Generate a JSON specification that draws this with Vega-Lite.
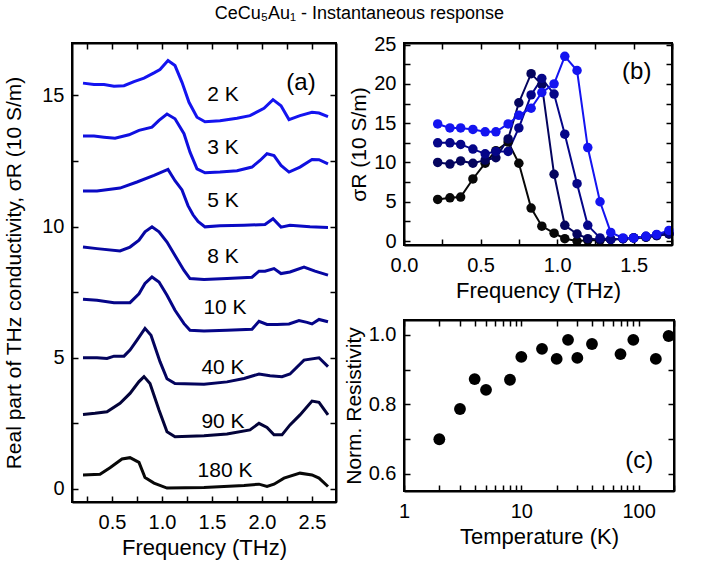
{
  "$schema": "https://vega.github.io/schema/vega-lite/v6.json",
  "padding": {"left": 2, "top": 4, "right": 5, "bottom": 2},
  "title": {"text": "CeCu₅Au₁ - Instantaneous response", "fontSize": 18, "fontWeight": "normal", "font": "Liberation Sans", "anchor": "middle", "offset": 11, "dx": 20, "color": "black"},
  "spacing": 4,
  "config": {
    "font": "Liberation Sans",
    "view": {"stroke": "black", "strokeWidth": 2},
    "axis": {"grid": false, "domain": true, "domainColor": "black", "domainWidth": 2, "zindex": 1, "tickColor": "black", "tickWidth": 1.5, "tickSize": -6, "labelColor": "black", "titleColor": "black", "labelFontSize": 20, "titleFontSize": 22, "titleFontWeight": "normal", "labelFont": "Liberation Sans", "titleFont": "Liberation Sans", "labelFlush": false, "labelOverlap": false}
  },
  "datasets": {
    "a": [
      {"T":"2 K","f":0.21,"s":15.47},{"T":"2 K","f":0.32,"s":15.42},{"T":"2 K","f":0.42,"s":15.42},{"T":"2 K","f":0.52,"s":15.35},{"T":"2 K","f":0.62,"s":15.37},{"T":"2 K","f":0.72,"s":15.53},{"T":"2 K","f":0.82,"s":15.66},{"T":"2 K","f":0.92,"s":15.86},{"T":"2 K","f":0.98,"s":15.99},{"T":"2 K","f":1.06,"s":16.33},{"T":"2 K","f":1.13,"s":16.14},{"T":"2 K","f":1.2,"s":15.5},{"T":"2 K","f":1.27,"s":14.74},{"T":"2 K","f":1.35,"s":14.17},{"T":"2 K","f":1.43,"s":14.0},{"T":"2 K","f":1.58,"s":14.04},{"T":"2 K","f":1.75,"s":14.13},{"T":"2 K","f":1.88,"s":14.23},{"T":"2 K","f":2.02,"s":14.51},{"T":"2 K","f":2.11,"s":14.84},{"T":"2 K","f":2.19,"s":14.61},{"T":"2 K","f":2.27,"s":14.08},{"T":"2 K","f":2.38,"s":14.23},{"T":"2 K","f":2.5,"s":14.36},{"T":"2 K","f":2.57,"s":14.33},{"T":"2 K","f":2.66,"s":14.19},
      {"T":"3 K","f":0.21,"s":13.45},{"T":"3 K","f":0.32,"s":13.45},{"T":"3 K","f":0.42,"s":13.41},{"T":"3 K","f":0.53,"s":13.37},{"T":"3 K","f":0.67,"s":13.5},{"T":"3 K","f":0.77,"s":13.67},{"T":"3 K","f":0.9,"s":13.79},{"T":"3 K","f":0.97,"s":14.05},{"T":"3 K","f":1.05,"s":14.29},{"T":"3 K","f":1.13,"s":14.11},{"T":"3 K","f":1.22,"s":13.54},{"T":"3 K","f":1.28,"s":12.84},{"T":"3 K","f":1.35,"s":12.2},{"T":"3 K","f":1.43,"s":12.05},{"T":"3 K","f":1.58,"s":12.08},{"T":"3 K","f":1.75,"s":12.13},{"T":"3 K","f":1.9,"s":12.27},{"T":"3 K","f":1.98,"s":12.52},{"T":"3 K","f":2.05,"s":12.78},{"T":"3 K","f":2.12,"s":12.71},{"T":"3 K","f":2.19,"s":12.33},{"T":"3 K","f":2.27,"s":12.08},{"T":"3 K","f":2.38,"s":12.27},{"T":"3 K","f":2.5,"s":12.56},{"T":"3 K","f":2.57,"s":12.55},{"T":"3 K","f":2.66,"s":12.39},
      {"T":"5 K","f":0.21,"s":11.36},{"T":"5 K","f":0.35,"s":11.36},{"T":"5 K","f":0.58,"s":11.47},{"T":"5 K","f":0.75,"s":11.7},{"T":"5 K","f":0.92,"s":11.95},{"T":"5 K","f":1.06,"s":12.18},{"T":"5 K","f":1.13,"s":11.75},{"T":"5 K","f":1.2,"s":11.4},{"T":"5 K","f":1.26,"s":10.8},{"T":"5 K","f":1.31,"s":10.45},{"T":"5 K","f":1.36,"s":10.2},{"T":"5 K","f":1.43,"s":9.99},{"T":"5 K","f":1.58,"s":10.03},{"T":"5 K","f":1.82,"s":10.05},{"T":"5 K","f":2.03,"s":10.08},{"T":"5 K","f":2.11,"s":10.3},{"T":"5 K","f":2.19,"s":9.98},{"T":"5 K","f":2.28,"s":10.05},{"T":"5 K","f":2.48,"s":9.99},{"T":"5 K","f":2.66,"s":9.97},
      {"T":"8 K","f":0.21,"s":9.22},{"T":"8 K","f":0.35,"s":9.16},{"T":"8 K","f":0.58,"s":9.07},{"T":"8 K","f":0.68,"s":9.22},{"T":"8 K","f":0.77,"s":9.48},{"T":"8 K","f":0.83,"s":9.8},{"T":"8 K","f":0.9,"s":9.99},{"T":"8 K","f":0.97,"s":9.8},{"T":"8 K","f":1.05,"s":9.41},{"T":"8 K","f":1.13,"s":8.9},{"T":"8 K","f":1.22,"s":8.33},{"T":"8 K","f":1.28,"s":8.02},{"T":"8 K","f":1.42,"s":7.98},{"T":"8 K","f":1.65,"s":8.02},{"T":"8 K","f":1.9,"s":8.07},{"T":"8 K","f":1.97,"s":8.3},{"T":"8 K","f":2.03,"s":8.3},{"T":"8 K","f":2.12,"s":8.4},{"T":"8 K","f":2.19,"s":8.21},{"T":"8 K","f":2.28,"s":8.27},{"T":"8 K","f":2.42,"s":8.46},{"T":"8 K","f":2.53,"s":8.3},{"T":"8 K","f":2.66,"s":8.15},
      {"T":"10 K","f":0.21,"s":7.23},{"T":"10 K","f":0.35,"s":7.19},{"T":"10 K","f":0.52,"s":7.1},{"T":"10 K","f":0.68,"s":7.1},{"T":"10 K","f":0.77,"s":7.44},{"T":"10 K","f":0.83,"s":7.83},{"T":"10 K","f":0.9,"s":8.08},{"T":"10 K","f":0.97,"s":7.89},{"T":"10 K","f":1.05,"s":7.38},{"T":"10 K","f":1.13,"s":6.81},{"T":"10 K","f":1.22,"s":6.3},{"T":"10 K","f":1.28,"s":6.05},{"T":"10 K","f":1.42,"s":6.02},{"T":"10 K","f":1.65,"s":6.05},{"T":"10 K","f":1.9,"s":6.09},{"T":"10 K","f":1.97,"s":6.39},{"T":"10 K","f":2.05,"s":6.27},{"T":"10 K","f":2.15,"s":6.27},{"T":"10 K","f":2.27,"s":6.29},{"T":"10 K","f":2.37,"s":6.42},{"T":"10 K","f":2.45,"s":6.35},{"T":"10 K","f":2.5,"s":6.29},{"T":"10 K","f":2.57,"s":6.46},{"T":"10 K","f":2.66,"s":6.37},
      {"T":"40 K","f":0.21,"s":5.0},{"T":"40 K","f":0.35,"s":5.0},{"T":"40 K","f":0.45,"s":4.97},{"T":"40 K","f":0.52,"s":5.06},{"T":"40 K","f":0.62,"s":5.06},{"T":"40 K","f":0.68,"s":5.29},{"T":"40 K","f":0.75,"s":5.67},{"T":"40 K","f":0.83,"s":6.12},{"T":"40 K","f":0.89,"s":5.86},{"T":"40 K","f":0.98,"s":4.85},{"T":"40 K","f":1.05,"s":4.2},{"T":"40 K","f":1.13,"s":4.02},{"T":"40 K","f":1.42,"s":3.99},{"T":"40 K","f":1.65,"s":4.08},{"T":"40 K","f":1.82,"s":4.21},{"T":"40 K","f":1.97,"s":4.38},{"T":"40 K","f":2.08,"s":4.31},{"T":"40 K","f":2.2,"s":4.28},{"T":"40 K","f":2.28,"s":4.38},{"T":"40 K","f":2.42,"s":4.91},{"T":"40 K","f":2.57,"s":5.0},{"T":"40 K","f":2.66,"s":4.66},
      {"T":"90 K","f":0.21,"s":2.84},{"T":"90 K","f":0.33,"s":2.88},{"T":"90 K","f":0.45,"s":2.94},{"T":"90 K","f":0.58,"s":3.26},{"T":"90 K","f":0.68,"s":3.64},{"T":"90 K","f":0.77,"s":4.09},{"T":"90 K","f":0.82,"s":4.28},{"T":"90 K","f":0.88,"s":4.02},{"T":"90 K","f":0.97,"s":3.01},{"T":"90 K","f":1.05,"s":2.18},{"T":"90 K","f":1.13,"s":1.99},{"T":"90 K","f":1.42,"s":2.03},{"T":"90 K","f":1.65,"s":2.09},{"T":"90 K","f":1.88,"s":2.25},{"T":"90 K","f":1.97,"s":2.5},{"T":"90 K","f":2.05,"s":2.34},{"T":"90 K","f":2.12,"s":2.06},{"T":"90 K","f":2.2,"s":2.06},{"T":"90 K","f":2.28,"s":2.44},{"T":"90 K","f":2.38,"s":2.82},{"T":"90 K","f":2.5,"s":3.35},{"T":"90 K","f":2.57,"s":3.3},{"T":"90 K","f":2.66,"s":2.82},
      {"T":"180 K","f":0.21,"s":0.53},{"T":"180 K","f":0.38,"s":0.56},{"T":"180 K","f":0.48,"s":0.81},{"T":"180 K","f":0.6,"s":1.14},{"T":"180 K","f":0.68,"s":1.19},{"T":"180 K","f":0.77,"s":1.01},{"T":"180 K","f":0.83,"s":0.43},{"T":"180 K","f":0.92,"s":0.22},{"T":"180 K","f":1.05,"s":0.03},{"T":"180 K","f":1.42,"s":0.05},{"T":"180 K","f":1.82,"s":0.13},{"T":"180 K","f":1.97,"s":0.18},{"T":"180 K","f":2.05,"s":0.09},{"T":"180 K","f":2.12,"s":0.18},{"T":"180 K","f":2.22,"s":0.41},{"T":"180 K","f":2.38,"s":0.6},{"T":"180 K","f":2.5,"s":0.53},{"T":"180 K","f":2.57,"s":0.41},{"T":"180 K","f":2.66,"s":0.09},
      {"label":"2 K","f":1.61,"s":15.0},{"label":"3 K","f":1.61,"s":13.0},{"label":"5 K","f":1.61,"s":10.96},{"label":"8 K","f":1.61,"s":8.83},{"label":"10 K","f":1.63,"s":6.89},{"label":"40 K","f":1.61,"s":4.6},{"label":"90 K","f":1.61,"s":2.55},{"label":"180 K","f":1.63,"s":0.69},
      {"panel":"(a)","f":2.39,"s":15.47}
    ],
    "b": [
      {"S":"180 K","f":0.22,"s":5.3},{"S":"180 K","f":0.3,"s":5.5},{"S":"180 K","f":0.37,"s":5.6},{"S":"180 K","f":0.45,"s":7.9},{"S":"180 K","f":0.53,"s":9.9},{"S":"180 K","f":0.6,"s":11.5},{"S":"180 K","f":0.68,"s":12.6},{"S":"180 K","f":0.75,"s":9.9},{"S":"180 K","f":0.83,"s":4.2},{"S":"180 K","f":0.9,"s":1.9},{"S":"180 K","f":0.98,"s":1.0},{"S":"180 K","f":1.05,"s":0.3},{"S":"180 K","f":1.13,"s":0.0},{"S":"180 K","f":1.2,"s":0.1},{"S":"180 K","f":1.28,"s":0.1},{"S":"180 K","f":1.35,"s":0.2},{"S":"180 K","f":1.43,"s":0.3},{"S":"180 K","f":1.5,"s":0.4},{"S":"180 K","f":1.58,"s":0.5},{"S":"180 K","f":1.65,"s":0.7},{"S":"180 K","f":1.73,"s":0.9},
      {"S":"40 K","f":0.22,"s":10.0},{"S":"40 K","f":0.3,"s":9.8},{"S":"40 K","f":0.37,"s":10.2},{"S":"40 K","f":0.45,"s":9.9},{"S":"40 K","f":0.53,"s":10.3},{"S":"40 K","f":0.6,"s":10.6},{"S":"40 K","f":0.68,"s":13.0},{"S":"40 K","f":0.75,"s":17.6},{"S":"40 K","f":0.83,"s":21.3},{"S":"40 K","f":0.9,"s":19.9},{"S":"40 K","f":0.98,"s":8.5},{"S":"40 K","f":1.05,"s":2.0},{"S":"40 K","f":1.13,"s":0.9},{"S":"40 K","f":1.2,"s":0.3},{"S":"40 K","f":1.28,"s":0.2},{"S":"40 K","f":1.35,"s":0.2},{"S":"40 K","f":1.43,"s":0.3},{"S":"40 K","f":1.5,"s":0.4},{"S":"40 K","f":1.58,"s":0.5},{"S":"40 K","f":1.65,"s":0.7},{"S":"40 K","f":1.73,"s":0.9},
      {"S":"10 K","f":0.22,"s":12.5},{"S":"10 K","f":0.3,"s":12.5},{"S":"10 K","f":0.37,"s":12.3},{"S":"10 K","f":0.45,"s":11.7},{"S":"10 K","f":0.53,"s":11.1},{"S":"10 K","f":0.6,"s":11.4},{"S":"10 K","f":0.68,"s":11.4},{"S":"10 K","f":0.75,"s":14.4},{"S":"10 K","f":0.83,"s":18.6},{"S":"10 K","f":0.9,"s":20.7},{"S":"10 K","f":0.98,"s":18.7},{"S":"10 K","f":1.05,"s":13.6},{"S":"10 K","f":1.13,"s":7.3},{"S":"10 K","f":1.2,"s":2.0},{"S":"10 K","f":1.28,"s":0.4},{"S":"10 K","f":1.35,"s":0.2},{"S":"10 K","f":1.43,"s":0.3},{"S":"10 K","f":1.5,"s":0.4},{"S":"10 K","f":1.58,"s":0.6},{"S":"10 K","f":1.65,"s":0.8},{"S":"10 K","f":1.73,"s":1.0},
      {"S":"2 K","f":0.22,"s":14.9},{"S":"2 K","f":0.3,"s":14.4},{"S":"2 K","f":0.37,"s":14.4},{"S":"2 K","f":0.45,"s":14.2},{"S":"2 K","f":0.53,"s":13.9},{"S":"2 K","f":0.6,"s":13.9},{"S":"2 K","f":0.68,"s":14.9},{"S":"2 K","f":0.75,"s":16.0},{"S":"2 K","f":0.83,"s":16.9},{"S":"2 K","f":0.9,"s":18.9},{"S":"2 K","f":0.98,"s":20.0},{"S":"2 K","f":1.05,"s":23.5},{"S":"2 K","f":1.13,"s":21.7},{"S":"2 K","f":1.2,"s":11.9},{"S":"2 K","f":1.28,"s":5.0},{"S":"2 K","f":1.35,"s":1.1},{"S":"2 K","f":1.43,"s":0.4},{"S":"2 K","f":1.5,"s":0.4},{"S":"2 K","f":1.58,"s":0.6},{"S":"2 K","f":1.65,"s":0.85},{"S":"2 K","f":1.73,"s":1.35},
      {"panel":"(b)","f":1.52,"s":21.5}
    ],
    "c": [
      {"T":2,"R":0.70},{"T":3,"R":0.787},{"T":4,"R":0.873},{"T":5,"R":0.842},{"T":8,"R":0.871},{"T":10,"R":0.937},{"T":15,"R":0.96},{"T":20,"R":0.931},{"T":25,"R":0.986},{"T":30,"R":0.934},{"T":40,"R":0.974},{"T":70,"R":0.945},{"T":90,"R":0.986},{"T":140,"R":0.931},{"T":180,"R":0.997},
      {"panel":"(c)","T":101,"R":0.636}
    ]
  },
  "hconcat": [
    {
      "width": 264,
      "height": 459,
      "data": {"name": "a"},
      "resolve": {"axis": {"x": "independent", "y": "independent"}},
      "layer": [
        {
          "transform": [{"filter": "isValid(datum.T)"}],
          "mark": {"type": "line", "strokeWidth": 3},
          "encoding": {
            "x": {"field": "f", "type": "quantitative", "scale": {"domain": [0.1, 2.74], "nice": false, "zero": false},
              "axis": {"orient": "bottom", "values": [0.25,0.5,0.75,1,1.25,1.5,1.75,2,2.25,2.5], "labelExpr": "datum.value % 0.5 == 0 ? format(datum.value, '.1f') : ''", "title": "Frequency (THz)", "labelPadding": 16, "titlePadding": 5}},
            "y": {"field": "s", "type": "quantitative", "scale": {"domain": [-0.5, 17], "nice": false, "zero": false},
              "axis": {"orient": "left", "values": [0,2.5,5,7.5,10,12.5,15], "labelExpr": "datum.value % 5 == 0 ? format(datum.value, 'd') : ''", "title": "Real part of THz conductivity, σR (10 S/m)", "titleFontSize": 21, "labelPadding": 14, "titlePadding": 17}},
            "color": {"field": "T", "type": "nominal", "legend": null,
              "scale": {"domain": ["2 K","3 K","5 K","8 K","10 K","40 K","90 K","180 K"], "range": ["#1414f0","#1010e0","#0a0ac4","#0707a2","#050588","#04045e","#03033a","#080808"]}}
          }
        },
        {
          "transform": [{"filter": "isValid(datum.label)"}],
          "mark": {"type": "text", "fontSize": 21, "align": "center", "baseline": "middle", "color": "black"},
          "encoding": {
            "x": {"field": "f", "type": "quantitative", "scale": {"domain": [0.1, 2.74], "nice": false, "zero": false},
              "axis": {"orient": "top", "values": [0.25,0.5,0.75,1,1.25,1.5,1.75,2,2.25,2.5], "labels": false, "title": null}},
            "y": {"field": "s", "type": "quantitative", "scale": {"domain": [-0.5, 17], "nice": false, "zero": false},
              "axis": {"orient": "right", "values": [0,2.5,5,7.5,10,12.5,15], "labels": false, "title": null}},
            "text": {"field": "label", "type": "nominal"}
          }
        },
        {
          "transform": [{"filter": "isValid(datum.panel)"}],
          "mark": {"type": "text", "fontSize": 24, "align": "center", "baseline": "middle", "color": "black"},
          "encoding": {
            "x": {"field": "f", "type": "quantitative", "axis": null, "scale": {"domain": [0.1, 2.74], "nice": false, "zero": false}},
            "y": {"field": "s", "type": "quantitative", "axis": null, "scale": {"domain": [-0.5, 17], "nice": false, "zero": false}},
            "text": {"field": "panel", "type": "nominal"}
          }
        },
        {
          "transform": [{"filter": "isValid(datum.panel)"}],
          "mark": {"type": "rect", "fill": null, "filled": false, "stroke": "black", "strokeWidth": 2},
          "encoding": {
            "x": {"datum": 0.1, "type": "quantitative", "axis": null, "scale": {"domain": [0.1, 2.74], "nice": false, "zero": false}},
            "x2": {"datum": 2.74},
            "y": {"datum": -0.5, "type": "quantitative", "axis": null, "scale": {"domain": [-0.5, 17], "nice": false, "zero": false}},
            "y2": {"datum": 17}
          }
        }
      ]
    },
    {
      "vconcat": [
        {
          "width": 268,
          "height": 202,
          "data": {"name": "b"},
          "resolve": {"axis": {"x": "independent", "y": "independent"}},
          "layer": [
            {
              "transform": [{"filter": "isValid(datum.S)"}],
              "mark": {"type": "line", "strokeWidth": 2},
              "encoding": {
                "x": {"field": "f", "type": "quantitative", "scale": {"domain": [0, 1.75], "nice": false, "zero": false},
                  "axis": {"orient": "bottom", "values": [0,0.25,0.5,0.75,1,1.25,1.5,1.75], "labelExpr": "datum.value % 0.5 == 0 ? format(datum.value, '.1f') : ''", "title": "Frequency (THz)", "labelPadding": 16, "titlePadding": 5}},
                "y": {"field": "s", "type": "quantitative", "scale": {"domain": [-0.5, 25.2], "nice": false, "zero": false},
                  "axis": {"orient": "left", "values": [0,2.5,5,7.5,10,12.5,15,17.5,20,22.5,25], "labelExpr": "datum.value % 5 == 0 ? format(datum.value, 'd') : ''", "title": "σR (10 S/m)", "titleFontSize": 21, "labelPadding": 14, "titlePadding": 4}},
                "color": {"field": "S", "type": "nominal", "legend": null,
                  "scale": {"domain": ["2 K","10 K","40 K","180 K"], "range": ["#1a1aff","#0808a8","#050550","#000000"]}}
              }
            },
            {
              "transform": [{"filter": "isValid(datum.S)"}],
              "mark": {"type": "circle", "size": 90, "opacity": 1},
              "encoding": {
                "x": {"field": "f", "type": "quantitative", "axis": null, "scale": {"domain": [0, 1.75], "nice": false, "zero": false}},
                "y": {"field": "s", "type": "quantitative", "axis": null, "scale": {"domain": [-0.5, 25.2], "nice": false, "zero": false}},
                "color": {"field": "S", "type": "nominal", "legend": null,
                  "scale": {"domain": ["2 K","10 K","40 K","180 K"], "range": ["#1a1aff","#0808a8","#050550","#000000"]}}
              }
            },
            {
              "transform": [{"filter": "isValid(datum.panel)"}],
              "mark": {"type": "text", "fontSize": 24, "align": "center", "baseline": "middle", "color": "black"},
              "encoding": {
                "x": {"field": "f", "type": "quantitative", "scale": {"domain": [0, 1.75], "nice": false, "zero": false},
                  "axis": {"orient": "top", "values": [0,0.25,0.5,0.75,1,1.25,1.5,1.75], "labels": false, "title": null}},
                "y": {"field": "s", "type": "quantitative", "scale": {"domain": [-0.5, 25.2], "nice": false, "zero": false},
                  "axis": {"orient": "right", "values": [0,2.5,5,7.5,10,12.5,15,17.5,20,22.5,25], "labels": false, "title": null}},
                "text": {"field": "panel", "type": "nominal"}
              }
            },
            {
              "transform": [{"filter": "isValid(datum.panel)"}],
              "mark": {"type": "rect", "fill": null, "filled": false, "stroke": "black", "strokeWidth": 2},
              "encoding": {
                "x": {"datum": 0, "type": "quantitative", "axis": null, "scale": {"domain": [0, 1.75], "nice": false, "zero": false}},
                "x2": {"datum": 1.75},
                "y": {"datum": -0.5, "type": "quantitative", "axis": null, "scale": {"domain": [-0.5, 25.2], "nice": false, "zero": false}},
                "y2": {"datum": 25.2}
              }
            }
          ]
        },
        {
          "width": 270,
          "height": 171,
          "data": {"name": "c"},
          "resolve": {"axis": {"x": "independent", "y": "independent"}},
          "layer": [
            {
              "transform": [{"filter": "!isValid(datum.panel)"}],
              "mark": {"type": "circle", "size": 140, "color": "black", "opacity": 1},
              "encoding": {
                "x": {"field": "T", "type": "quantitative", "scale": {"type": "log", "domain": [1, 200], "nice": false},
                  "axis": {"orient": "bottom", "values": [1,2,3,4,5,6,7,8,9,10,20,30,40,50,60,70,80,90,100,200], "labelExpr": "datum.value == 1 || datum.value == 10 || datum.value == 100 ? format(datum.value, 'd') : ''", "title": "Temperature (K)", "labelPadding": 16, "titlePadding": 5}},
                "y": {"field": "R", "type": "quantitative", "scale": {"domain": [0.551, 1.043], "nice": false, "zero": false},
                  "axis": {"orient": "left", "values": [0.6,0.7,0.8,0.9,1.0], "labelExpr": "round(datum.value * 10) % 2 == 0 ? format(datum.value, '.1f') : ''", "title": "Norm. Resistivity", "titleFontSize": 21, "labelPadding": 14, "titlePadding": 4}}
              }
            },
            {
              "transform": [{"filter": "isValid(datum.panel)"}],
              "mark": {"type": "text", "fontSize": 24, "align": "center", "baseline": "middle", "color": "black"},
              "encoding": {
                "x": {"field": "T", "type": "quantitative", "scale": {"type": "log", "domain": [1, 200], "nice": false},
                  "axis": {"orient": "top", "values": [1,2,3,4,5,6,7,8,9,10,20,30,40,50,60,70,80,90,100,200], "labels": false, "title": null}},
                "y": {"field": "R", "type": "quantitative", "scale": {"domain": [0.551, 1.043], "nice": false, "zero": false},
                  "axis": {"orient": "right", "values": [0.6,0.7,0.8,0.9,1.0], "labels": false, "title": null}},
                "text": {"field": "panel", "type": "nominal"}
              }
            },
            {
              "transform": [{"filter": "isValid(datum.panel)"}],
              "mark": {"type": "rect", "fill": null, "filled": false, "stroke": "black", "strokeWidth": 2},
              "encoding": {
                "x": {"datum": 1, "type": "quantitative", "axis": null, "scale": {"type": "log", "domain": [1, 200], "nice": false}},
                "x2": {"datum": 200},
                "y": {"datum": 0.551, "type": "quantitative", "axis": null, "scale": {"domain": [0.551, 1.043], "nice": false, "zero": false}},
                "y2": {"datum": 1.043}
              }
            }
          ]
        }
      ],
      "spacing": 75,
      "bounds": "flush"
    }
  ]
}
